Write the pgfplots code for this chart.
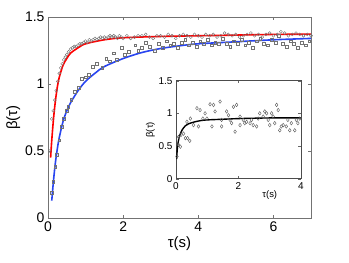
\documentclass[border=0pt]{standalone}
\usepackage{fontspec}
\setmainfont{Liberation Sans}
\usepackage{pgfplots}
\pgfplotsset{compat=1.18}
\definecolor{fitred}{rgb}{1,0,0}
\definecolor{fitblue}{rgb}{0.16,0.27,0.94}
\begin{document}
\begin{tikzpicture}
\path[use as bounding box] (-48bp,-45bp) rectangle (301bp,218bp);
\begin{axis}[name=main, at={(0,0)}, anchor=south west, scale only axis,
  width=263bp, height=201bp, xmin=0, xmax=7, ymin=0, ymax=1.5,
  xtick={0,2,4,6}, ytick={0,0.5,1,1.5},
  tick align=inside, major tick length=3bp,
  axis line style={black!55, line width=0.8bp}, tick style={black!55},
  ticklabel style={font=\fontsize{14}{16}\selectfont},
  /pgf/number format/assume math mode=true,
  xlabel={τ(s)}, ylabel={β(τ)},
  label style={font=\fontsize{15}{17}\selectfont},
  xlabel style={yshift=2bp}, ylabel style={yshift=-2bp}]
\addplot[only marks, mark=o, mark size=1.5bp, black!55, line width=0.4bp] coordinates {
(0.05,0.50)(0.10,0.74)(0.14,0.80)(0.18,0.88)(0.22,0.95)(0.26,1.02)(0.30,1.08)(0.34,1.12)(0.38,1.15)(0.42,1.18)(0.46,1.20)(0.50,1.22)(0.55,1.24)(0.60,1.26)(0.65,1.27)(0.70,1.28)(0.75,1.28)(0.80,1.29)(0.85,1.30)(0.90,1.30)(0.95,1.31)(1.00,1.32)(1.05,1.31)(1.10,1.33)(1.15,1.32)(1.20,1.33)(1.25,1.34)(1.30,1.33)(1.35,1.34)(1.40,1.35)(1.45,1.34)(1.50,1.35)(1.55,1.34)(1.60,1.35)(1.65,1.36)(1.70,1.35)(1.75,1.36)(1.80,1.35)(1.85,1.34)(1.90,1.36)(1.95,1.35)(2.00,1.34)(2.10,1.36)(2.20,1.34)(2.30,1.35)(2.40,1.36)(2.50,1.36)(2.60,1.37)(2.70,1.35)(2.80,1.34)(2.90,1.36)(3.00,1.36)(3.10,1.35)(3.20,1.37)(3.30,1.36)(3.40,1.34)(3.50,1.36)(3.60,1.37)(3.70,1.36)(3.80,1.35)(3.90,1.37)(4.00,1.36)(4.10,1.35)(4.20,1.37)(4.30,1.36)(4.40,1.37)(4.50,1.35)(4.60,1.36)(4.70,1.38)(4.80,1.37)(4.90,1.36)(5.00,1.37)(5.10,1.35)(5.20,1.36)(5.30,1.37)(5.40,1.38)(5.50,1.36)(5.60,1.37)(5.70,1.35)(5.80,1.37)(5.90,1.38)(6.00,1.36)(6.10,1.37)(6.20,1.39)(6.30,1.38)(6.40,1.36)(6.50,1.37)(6.60,1.38)(6.70,1.37)(6.80,1.36)(6.90,1.37)(7.00,1.36)
};
\addplot[only marks, mark=square, mark size=1.4bp, black!55, line width=0.4bp] coordinates {
(0.10,0.19)(0.14,0.27)(0.19,0.38)(0.24,0.47)(0.30,0.58)(0.36,0.68)(0.42,0.74)(0.50,0.80)(0.54,0.83)(0.62,0.88)(0.72,0.94)(0.81,0.97)(0.90,1.04)(1.00,1.05)(1.09,1.07)(1.20,1.13)(1.30,1.15)(1.44,1.12)(1.55,1.19)(1.65,1.17)(1.74,1.23)(1.83,1.18)(1.96,1.27)(2.05,1.22)(2.15,1.24)(2.32,1.29)(2.40,1.25)(2.50,1.27)(2.60,1.31)(2.70,1.28)(2.85,1.25)(2.95,1.30)(3.05,1.27)(3.15,1.32)(3.25,1.29)(3.35,1.30)(3.45,1.27)(3.55,1.31)(3.65,1.33)(3.75,1.29)(3.85,1.31)(3.95,1.28)(4.05,1.32)(4.15,1.30)(4.25,1.33)(4.35,1.29)(4.45,1.31)(4.55,1.30)(4.65,1.34)(4.75,1.30)(4.85,1.28)(4.95,1.32)(5.05,1.30)(5.15,1.33)(5.25,1.29)(5.35,1.31)(5.45,1.27)(5.55,1.32)(5.65,1.34)(5.75,1.30)(5.85,1.29)(5.95,1.33)(6.05,1.31)(6.15,1.36)(6.25,1.30)(6.35,1.28)(6.45,1.32)(6.55,1.30)(6.65,1.27)(6.75,1.31)(6.85,1.29)(6.95,1.32)
};
\addplot[fitred, line width=1.6bp, smooth] coordinates {
(0.07,0.45)(0.10,0.58)(0.15,0.75)(0.20,0.88)(0.25,0.98)(0.30,1.05)(0.40,1.14)(0.50,1.19)(0.60,1.23)(0.80,1.27)(1.00,1.30)(1.50,1.33)(2.00,1.345)(3.00,1.355)(4.00,1.36)(5.00,1.365)(6.00,1.37)(7.00,1.372)
};
\addplot[fitblue, line width=1.6bp, smooth] coordinates {
(0.10,0.13)(0.15,0.29)(0.20,0.42)(0.25,0.52)(0.30,0.60)(0.40,0.72)(0.50,0.80)(0.60,0.86)(0.80,0.95)(1.00,1.02)(1.25,1.08)(1.50,1.13)(2.00,1.19)(2.50,1.235)(3.00,1.265)(3.50,1.285)(4.00,1.30)(5.00,1.315)(6.00,1.33)(7.00,1.34)
};
\end{axis}
\begin{axis}[name=inset, at={(128bp,39.3bp)}, anchor=south west, scale only axis,
  width=125bp, height=98bp, xmin=0, xmax=4, ymin=0, ymax=1.5,
  xtick={0,2,4}, ytick={0,0.5,1,1.5},
  axis background/.style={fill=white},
  tick align=inside, major tick length=2.5bp,
  axis line style={black!70, line width=0.6bp}, tick style={black!60},
  ticklabel style={font=\fontsize{10}{12}\selectfont},
  /pgf/number format/assume math mode=true,
  xlabel={τ(s)}, ylabel={β(τ)},
  label style={font=\fontsize{9.5}{11}\selectfont},
  xlabel style={at={(rel axis cs:0.75,0)}, anchor=north, yshift=-8bp},
  ylabel style={yshift=-3bp}]
\addplot[only marks, mark=diamond, mark size=1.8bp, black!65, line width=0.4bp] coordinates {
(0.03,0.34)(0.08,0.52)(0.14,0.49)(0.08,0.64)(0.16,0.67)(0.24,0.69)(0.30,0.62)(0.37,0.62)(0.44,0.58)(0.35,0.87)(0.46,0.92)(0.56,0.82)(0.67,1.08)(0.77,1.05)(0.72,0.80)(0.86,0.92)(0.93,1.00)(0.99,0.92)(1.09,1.14)(1.20,1.13)(1.25,1.03)(1.15,0.80)(1.41,1.18)(1.46,0.90)(1.46,0.80)(1.62,1.03)(1.68,0.97)(1.73,0.90)(1.78,0.85)(1.84,1.10)(1.89,0.72)(1.94,1.13)(2.05,0.82)(2.05,0.95)(2.15,0.90)(2.20,0.85)(2.26,0.87)(2.37,0.85)(2.42,0.90)(2.47,0.82)(2.58,0.80)(2.63,0.92)(2.68,1.00)(2.79,0.95)(2.84,1.03)(2.90,1.00)(3.00,0.82)(2.95,0.90)(3.06,1.00)(3.11,0.95)(3.16,0.85)(3.22,1.13)(3.27,1.05)(3.32,0.74)(3.37,0.80)(3.43,0.82)(3.53,0.80)(3.58,0.90)(3.64,0.74)(3.69,0.85)(3.80,0.74)(3.85,0.90)(3.90,0.85)(3.96,0.92)
};
\addplot[black, line width=1.4bp, smooth] coordinates {
(0.02,0.30)(0.05,0.50)(0.10,0.63)(0.15,0.70)(0.20,0.75)(0.30,0.81)(0.40,0.84)(0.60,0.87)(0.80,0.89)(1.00,0.90)(1.50,0.91)(2.00,0.92)(3.00,0.93)(4.00,0.93)
};
\end{axis}
\end{tikzpicture}
\end{document}
